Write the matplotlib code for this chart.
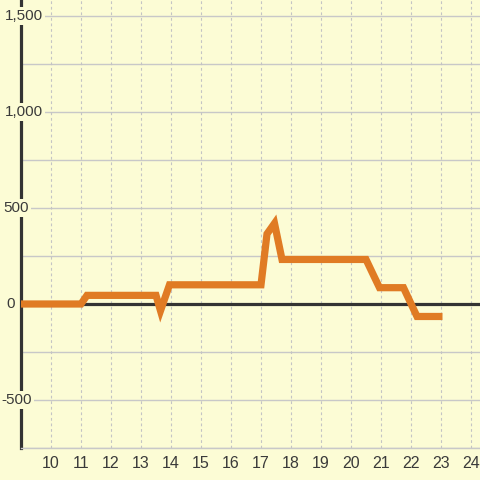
import matplotlib.pyplot as plt

# data
hours = [9.0, 11.0, 11.2, 13.5, 13.65, 13.95, 17.0, 17.2, 17.45, 17.7,
         20.5, 20.75, 20.95, 21.75, 22.2, 23.05]
values = [0, 0, 45, 45, -35, 100, 100, 365, 420, 232,
          232, 150, 85, 85, -65, -65]
xticks = list(range(10, 25))
ylabels = [-500, 0, 500, 1000, 1500]

bg = '#fcfcd5'
plt.rcParams['font.family'] = ['Liberation Sans', 'DejaVu Sans']

fig = plt.figure(figsize=(4.8, 4.8), dpi=100, facecolor=bg)
ax = fig.add_axes([21 / 480, 32 / 480, 459 / 480, 448 / 480], facecolor=bg)
ax.set_xlim(9, 24.3)
ax.set_ylim(-750, 1583.3)

# grid
for y in range(-750, 1600, 250):
    ax.axhline(y, color='#c8c8c8', lw=1, zorder=1)
for x in xticks:
    ax.axvline(x, color='#c4c4c4', lw=0.8, ls=(0, (2.5, 2.5)), zorder=1)
ax.axhline(0, color='#333333', lw=2.3, zorder=2)

ax.plot(hours, values, color='#e07b24', lw=5.2, solid_joinstyle='miter',
        solid_capstyle='butt', zorder=3)

for s in ['top', 'right']:
    ax.spines[s].set_visible(False)
ax.spines['bottom'].set_color('#c8c8c8')
ax.spines['bottom'].set_linewidth(1)
ax.spines['left'].set_color('#333333')
ax.spines['left'].set_linewidth(2.3)
ax.spines['left'].set_zorder(2)

ax.set_xticks(xticks)
ax.set_xticklabels([str(t) for t in xticks], fontsize=11.5, color='#3a3a3a')
ax.tick_params(axis='x', length=0, pad=6)
ax.set_yticks([])

# y labels sit over the spine with a background box
right_px = {-500: 32, 0: 15, 500: 29, 1000: 43, 1500: 43}
for v in ylabels:
    xp = (right_px[v] - 21) / 459
    ax.text(xp, v, f'{v:,}', transform=ax.get_yaxis_transform(),
            ha='right', va='center', fontsize=11, color='#3a3a3a', zorder=5,
            bbox=dict(facecolor=bg, edgecolor='none', pad=1.5), clip_on=False)

fig.savefig('out.png', dpi=100, facecolor=bg)
